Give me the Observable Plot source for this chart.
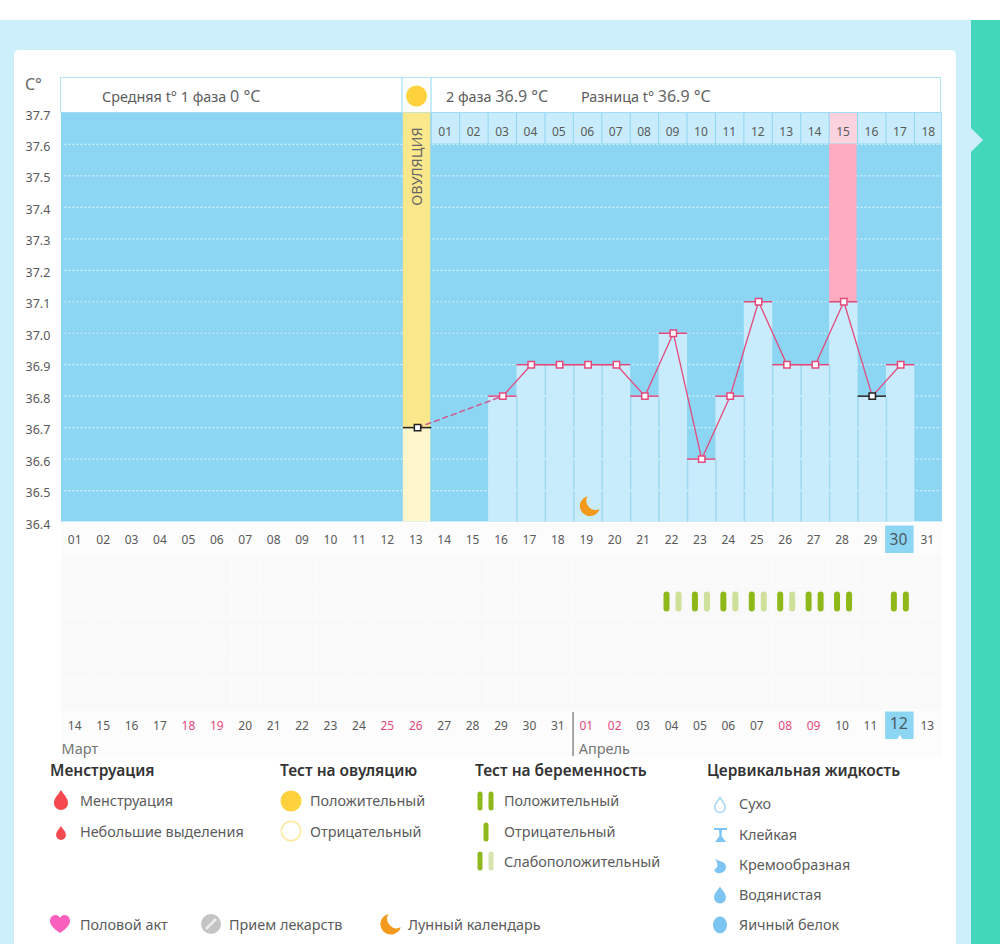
<!DOCTYPE html>
<html lang="ru">
<head>
<meta charset="utf-8">
<script src="https://cdn.jsdelivr.net/npm/d3@7"></script>
<script src="https://cdn.jsdelivr.net/npm/@observablehq/plot@0.6"></script>
<style>
html,body{margin:0;padding:0;background:#fff;}
body{width:1000px;height:944px;position:relative;overflow:hidden;font-family:"Noto Sans",sans-serif;color:#555;}
.abs{position:absolute;}
#band{left:0;top:20px;width:971px;height:924px;background:#cdeffc;}
#side{left:971px;top:20px;width:29px;height:924px;background:#42d6bb;}
#notch{left:971px;top:128px;width:0;height:0;border-left:12px solid #cdeffc;border-top:12px solid transparent;border-bottom:12px solid transparent;}
#card{left:14px;top:50px;width:942px;height:894px;background:#fff;border-radius:5px 5px 0 0;}
#lower{left:61px;top:523px;width:881px;height:234px;background:#fcfcfc;}
#head{left:60px;top:77px;height:34px;border:1.5px solid #b4e3f5;background:#fff;box-sizing:content-box;width:879px;}
.sep{top:78px;width:2px;height:35px;background:#c6ebfb;}
.t{position:absolute;white-space:nowrap;transform:translateY(-50%);line-height:1;}
.h{font-size:15.5px;font-weight:600;color:#333;}
.i{font-size:14.4px;color:#5c5c5c;}
.n{font-size:16px;color:#666;}
svg.ic{position:absolute;overflow:visible;left:0;top:0;}
.plot{position:absolute;left:0;top:0;background:transparent!important;}
</style>
</head>
<body>
<div class="abs" id="band"></div><div class="abs" id="side"></div><div class="abs" id="notch"></div>
<div class="abs" id="card"></div><div class="abs" id="lower"></div><div class="abs" id="head"></div>
<div class="abs sep" style="left:401px"></div><div class="abs sep" style="left:429.5px"></div>
<div id="charts"></div>
<svg class="ic" width="1000" height="944" id="icons"></svg>
<div id="texts"></div>
<script>
// ---- data ----
const days = d3.range(1, 32);
const temps = [36.8,36.9,36.9,36.9,36.9,36.8,37.0,36.6,36.8,37.1,36.9,36.9,37.1,36.8,36.9];
const tempDays = d3.range(16, 31);
const ovulationDay = 13;
const ovulationTemp = 36.7;
const blackDays = [13, 29];
const gridTemps = [36.4,36.5,36.6,36.7,36.8,36.9,37.0,37.1,37.2,37.3,37.4,37.5,37.6];
const yTicks = [36.4,36.5,36.6,36.7,36.8,36.9,37.0,37.1,37.2,37.3,37.4,37.5,37.6,37.7];
const cycleDays = d3.range(14, 32);
const cycleLabels = ["01","02","03","04","05","06","07","08","09","10","11","12","13","14","15","16","17","18"];
const pinkCycleDay = 28;
const moonDay = 19;
const topLabels = ["01","02","03","04","05","06","07","08","09","10","11","12","13","14","15","16","17","18","19","20","21","22","23","24","25","26","27","28","29","30","31"];
const bottomLabels = ["14","15","16","17","18","19","20","21","22","23","24","25","26","27","28","29","30","31","01","02","03","04","05","06","07","08","09","10","11","12","13"];
const weekendIdx = [5,6,12,13,19,20,26,27];
const todayDay = 30;
const testDays = [22,23,24,25,26,27,28,30];
const testLevels = ["weak","weak","weak","weak","weak","pos","pos","pos"];
const rows = ["top","r1","r2","r3","r4","r5","bottom"];
const gridRows = ["r1","r2","r3","r4","r5"];

const PINK = "#e5497c", BLUE = "#8dd6f3", PALE = "#c8ecfb", SEP = "#9fd9f1", TXT = "#5a5a5a";
const temp = d => temps[tempDays.indexOf(d)];
const seps = tempDays.slice(0, -1);
const endX = d => Math.min(d + .5, 31.47);
const moonSvg = "data:image/svg+xml," + encodeURIComponent('<svg xmlns="http://www.w3.org/2000/svg" viewBox="0 0 24 24"><path d="M10 1A11 11 0 1 0 23 15 A10 10 0 0 1 10 1Z" fill="#f39a1e"/></svg>');
const barGaps = tempDays.flatMap(d => gridTemps.filter(t => t < temp(d) - .01 && t > 36.41).map(t => ({d, t})));

const main = Plot.plot({
  width: 1000, height: 540, marginLeft: 61.8, marginRight: 57.2, marginTop: 112.5, marginBottom: 18.5,
  x: {domain: [0.5, 31.5], axis: null},
  y: {domain: [36.4, 37.7]},
  style: {background: "transparent", fontFamily: '"Noto Sans",sans-serif'},
  marks: [
    Plot.rect([0], {x1: 0.47, x2: 31.47, y1: 36.4, y2: 37.7, fill: BLUE}),
    Plot.ruleY(gridTemps, {y: d => d, x1: 0.6, x2: 31.45, stroke: "#fff", strokeWidth: 1.2, strokeDasharray: "1.5,2.5", strokeOpacity: .8}),
    Plot.rect(tempDays, {x1: d => d - .5, x2: d => d + .5, y1: 36.4, y2: temp, fill: PALE}),
    Plot.ruleX(seps, {x: d => d + .5, y1: 36.4, y2: d => Math.min(temp(d), temp(d + 1)), stroke: SEP, strokeWidth: 1.5}),
    Plot.ruleY(barGaps, {y: "t", x1: d => d.d - .5, x2: d => d.d + .5, stroke: PALE, strokeWidth: 2}),
    Plot.rect(cycleDays, {x1: d => d - .5, x2: endX, y1: 37.6, y2: 37.7, fill: d => d === pinkCycleDay ? "#fbd3df" : PALE, inset: .5}),
    Plot.rect([pinkCycleDay], {x1: d => d - .5, x2: d => d + .5, y1: temp, y2: 37.6, fill: "#fcabc1", insetRight: 1}),
    Plot.rect([ovulationDay], {x1: d => d - .5, x2: d => d + .5, y1: 36.4, y2: ovulationTemp, fill: "#fdf6cc", insetRight: 1}),
    Plot.rect([ovulationDay], {x1: d => d - .5, x2: d => d + .5, y1: ovulationTemp, y2: 37.7, fill: "#fce88c", insetRight: 1}),
    Plot.text(["ОВУЛЯЦИЯ"], {x: ovulationDay, y: 37.53, text: d => d, rotate: -90, fontSize: 14.5, fill: "#666"}),
    Plot.text(cycleDays, {x: d => d, y: 37.65, text: (d, i) => cycleLabels[i], fontSize: 12, fill: TXT, dy: 3, dx: -.8}),
    Plot.line([ovulationDay, tempDays[0]], {x: d => d, y: d => d === ovulationDay ? ovulationTemp : temp(d), stroke: "#c95f93", strokeWidth: 1.6, strokeDasharray: "5,4"}),
    Plot.line(tempDays, {x: d => d, y: temp, stroke: PINK, strokeWidth: 1.3}),
    Plot.ruleY([ovulationDay, ...tempDays], {
      x1: d => d - .5, x2: d => d + .5,
      y: d => d === ovulationDay ? ovulationTemp : temp(d),
      stroke: d => blackDays.includes(d) ? "#222" : PINK, strokeWidth: 1.5}),
    Plot.dot([ovulationDay, ...tempDays], {
      x: d => d, y: d => d === ovulationDay ? ovulationTemp : temp(d),
      symbol: "square", r: 3.6, fill: "#fff",
      stroke: d => blackDays.includes(d) ? "#222" : PINK, strokeWidth: 1.5}),
    Plot.image([moonDay], {x: d => d + .05, y: 36.45, src: moonSvg, width: 22, height: 22}),
    Plot.axisY({ticks: yTicks, tickFormat: d3.format(".1f"), tickSize: 0, tickPadding: 12, label: null, fontSize: 12.5, fill: TXT, dy: 2.5})
  ]
});
main.classList.add("plot");

const tests = testDays.map((d, i) => ({day: d, level: testLevels[i]}));
const lower = Plot.plot({
  width: 1000, height: 760, marginLeft: 61, marginRight: 58, marginTop: 523.3, marginBottom: 17.4,
  x: {domain: [0.5, 31.5], axis: null},
  y: {domain: rows, axis: null, padding: 0},
  style: {background: "transparent", fontFamily: '"Noto Sans",sans-serif'},
  marks: [
    Plot.barX(gridRows.flatMap(r => days.map(d => ({r, d}))), {x1: d => d.d - .5, x2: d => d.d + .5, y: "r", fill: "#f9f9f9", inset: .5}),
    Plot.barX([["top", todayDay], ["bottom", todayDay]], {x1: d => d[1] - .5, x2: d => d[1] + .5, y: d => d[0], fill: BLUE, insetTop: 1.5, insetBottom: 2}),
    Plot.dot([todayDay], {x: d => d, y: () => "bottom", symbol: "triangle", r: 3, fill: "#fcfcfc", dy: 13.5}),
    Plot.text(days.filter(d => d !== todayDay), {x: d => d, y: () => "top", text: d => topLabels[d - 1], fontSize: 12, fill: TXT, dx: -1}),
    Plot.text([todayDay], {x: d => d, y: () => "top", text: d => topLabels[d - 1], fontSize: 15.5, fill: "#4a5a62", dx: -1.5}),
    Plot.text(days.filter(d => d !== todayDay), {x: d => d, y: () => "bottom", text: d => bottomLabels[d - 1], fontSize: 12, dx: -1,
      fill: d => weekendIdx.includes(d) ? PINK : TXT}),
    Plot.text([todayDay], {x: d => d, y: () => "bottom", text: d => bottomLabels[d - 1], fontSize: 16, fill: "#4a5a62", dy: -2, dx: -1}),
    Plot.tickX(tests, {x: "day", y: () => "r2", dx: -6, stroke: "#8fb81b", strokeWidth: 6, strokeLinecap: "round", insetTop: 8.5, insetBottom: 8.5}),
    Plot.tickX(tests, {x: "day", y: () => "r2", dx: 6, stroke: d => d.level === "pos" ? "#8fb81b" : "#cfe09a", strokeWidth: 6, strokeLinecap: "round", insetTop: 8.5, insetBottom: 8.5}),
    Plot.tickX([18.5], {x: d => d, y: () => "bottom", stroke: "#555", strokeWidth: 1, insetTop: 2, insetBottom: -15}),
    Plot.text(["Март"], {x: 0.5, y: () => "bottom", text: d => d, textAnchor: "start", dy: 23, fontSize: 14.5, fill: "#777"}),
    Plot.text(["Апрель"], {x: 18.7, y: () => "bottom", text: d => d, textAnchor: "start", dy: 23, fontSize: 14.5, fill: "#777"})
  ]
});
lower.classList.add("plot");
document.getElementById("charts").append(lower, main);

// ---- header and legend text ----
const T = document.getElementById("texts");
function text(x, y, html, cls) {
  const e = document.createElement("div");
  e.className = "t " + (cls || "");
  e.style.left = x + "px"; e.style.top = y + "px"; e.innerHTML = html;
  T.append(e);
}
text(25, 84, "C°", "n");
text(102, 96, 'Средняя t° 1 фаза <span class="n">0 °C</span>', "i");
text(446, 96, '2 фаза <span class="n">36.9 °C</span>', "i");
text(581, 96, 'Разница t° <span class="n">36.9 °C</span>', "i");

text(50, 771, "Менструация", "h");
text(280, 771, "Тест на овуляцию", "h");
text(475, 771, "Тест на беременность", "h");
text(707, 771, "Цервикальная жидкость", "h");
text(80, 801, "Менструация", "i");
text(80, 832, "Небольшие выделения", "i");
text(310, 801, "Положительный", "i");
text(310, 832, "Отрицательный", "i");
text(504, 801, "Положительный", "i");
text(504, 832, "Отрицательный", "i");
text(504, 862, "Слабоположительный", "i");
text(739, 804, "Сухо", "i");
text(739, 835, "Клейкая", "i");
text(739, 865, "Кремообразная", "i");
text(739, 895, "Водянистая", "i");
text(739, 925, "Яичный белок", "i");
text(80, 925, "Половой акт", "i");
text(229, 925, "Прием лекарств", "i");
text(408, 925, "Лунный календарь", "i");

const drop = (x, y, s, fill, stroke) => `<path transform="translate(${x},${y}) scale(${s})" d="M0,-10 C3,-5 7,-2 7,3 A7,7 0 0 1 -7,3 C-7,-2 -3,-5 0,-10Z" fill="${fill}" stroke="${stroke||"none"}" stroke-width="${stroke?1.5/s:0}"/>`;
const pill = (x, y, h, c) => `<rect x="${x-2.5}" y="${y-h/2}" width="5" height="${h}" rx="2.5" fill="${c}"/>`;
const G = "#8fb81b", L = "#d6e4ad", C = "#7cc4f2";
document.getElementById("icons").innerHTML = [
  `<circle cx="416.5" cy="96" r="10.5" fill="#fdd23d"/>`,
  drop(61, 800, 1, "#f5494f"), drop(61, 833, .7, "#f5494f"),
  `<circle cx="291" cy="801" r="10.5" fill="#fdd23d"/>`,
  `<circle cx="291" cy="831" r="9.7" fill="#fff" stroke="#fde79a" stroke-width="1.5"/>`,
  pill(480, 801, 19, G), pill(491, 801, 19, G), pill(486, 832, 19, G), pill(480, 861, 19, G), pill(491, 861, 19, L),
  drop(720, 805, .75, "#fff", "#a8d6f5"),
  `<path d="M714,828H727V830H722L721.5,836L726,842H715L719.5,836L719,830H714Z" fill="${C}"/>`,
  `<path d="M714,858 C718,862 724,860 726,866 A6.5,6.5 0 0 1 714,870 C718,868 719,863 714,858Z" fill="${C}"/>`,
  drop(720, 895, .85, C),
  `<ellipse cx="720" cy="925" rx="7" ry="8.5" fill="${C}"/>`,
  `<path d="M60,933 C54,929 50,925 50,921 C50,917 53,915 55.5,915 C57.5,915 59,916 60,918 C61,916 62.5,915 64.5,915 C67,915 70,917 70,921 C70,925 66,929 60,933Z" fill="#f95fbc"/>`,
  `<circle cx="211" cy="924" r="10" fill="#c4c4c4"/><line x1="206" y1="929" x2="216" y2="919" stroke="#eee" stroke-width="2.5"/>`,
  `<path transform="translate(379,913) scale(.95)" d="M10 1A11 11 0 1 0 23 15 A10 10 0 0 1 10 1Z" fill="#f39a1e"/>`
].join("");
</script>
</body>
</html>
